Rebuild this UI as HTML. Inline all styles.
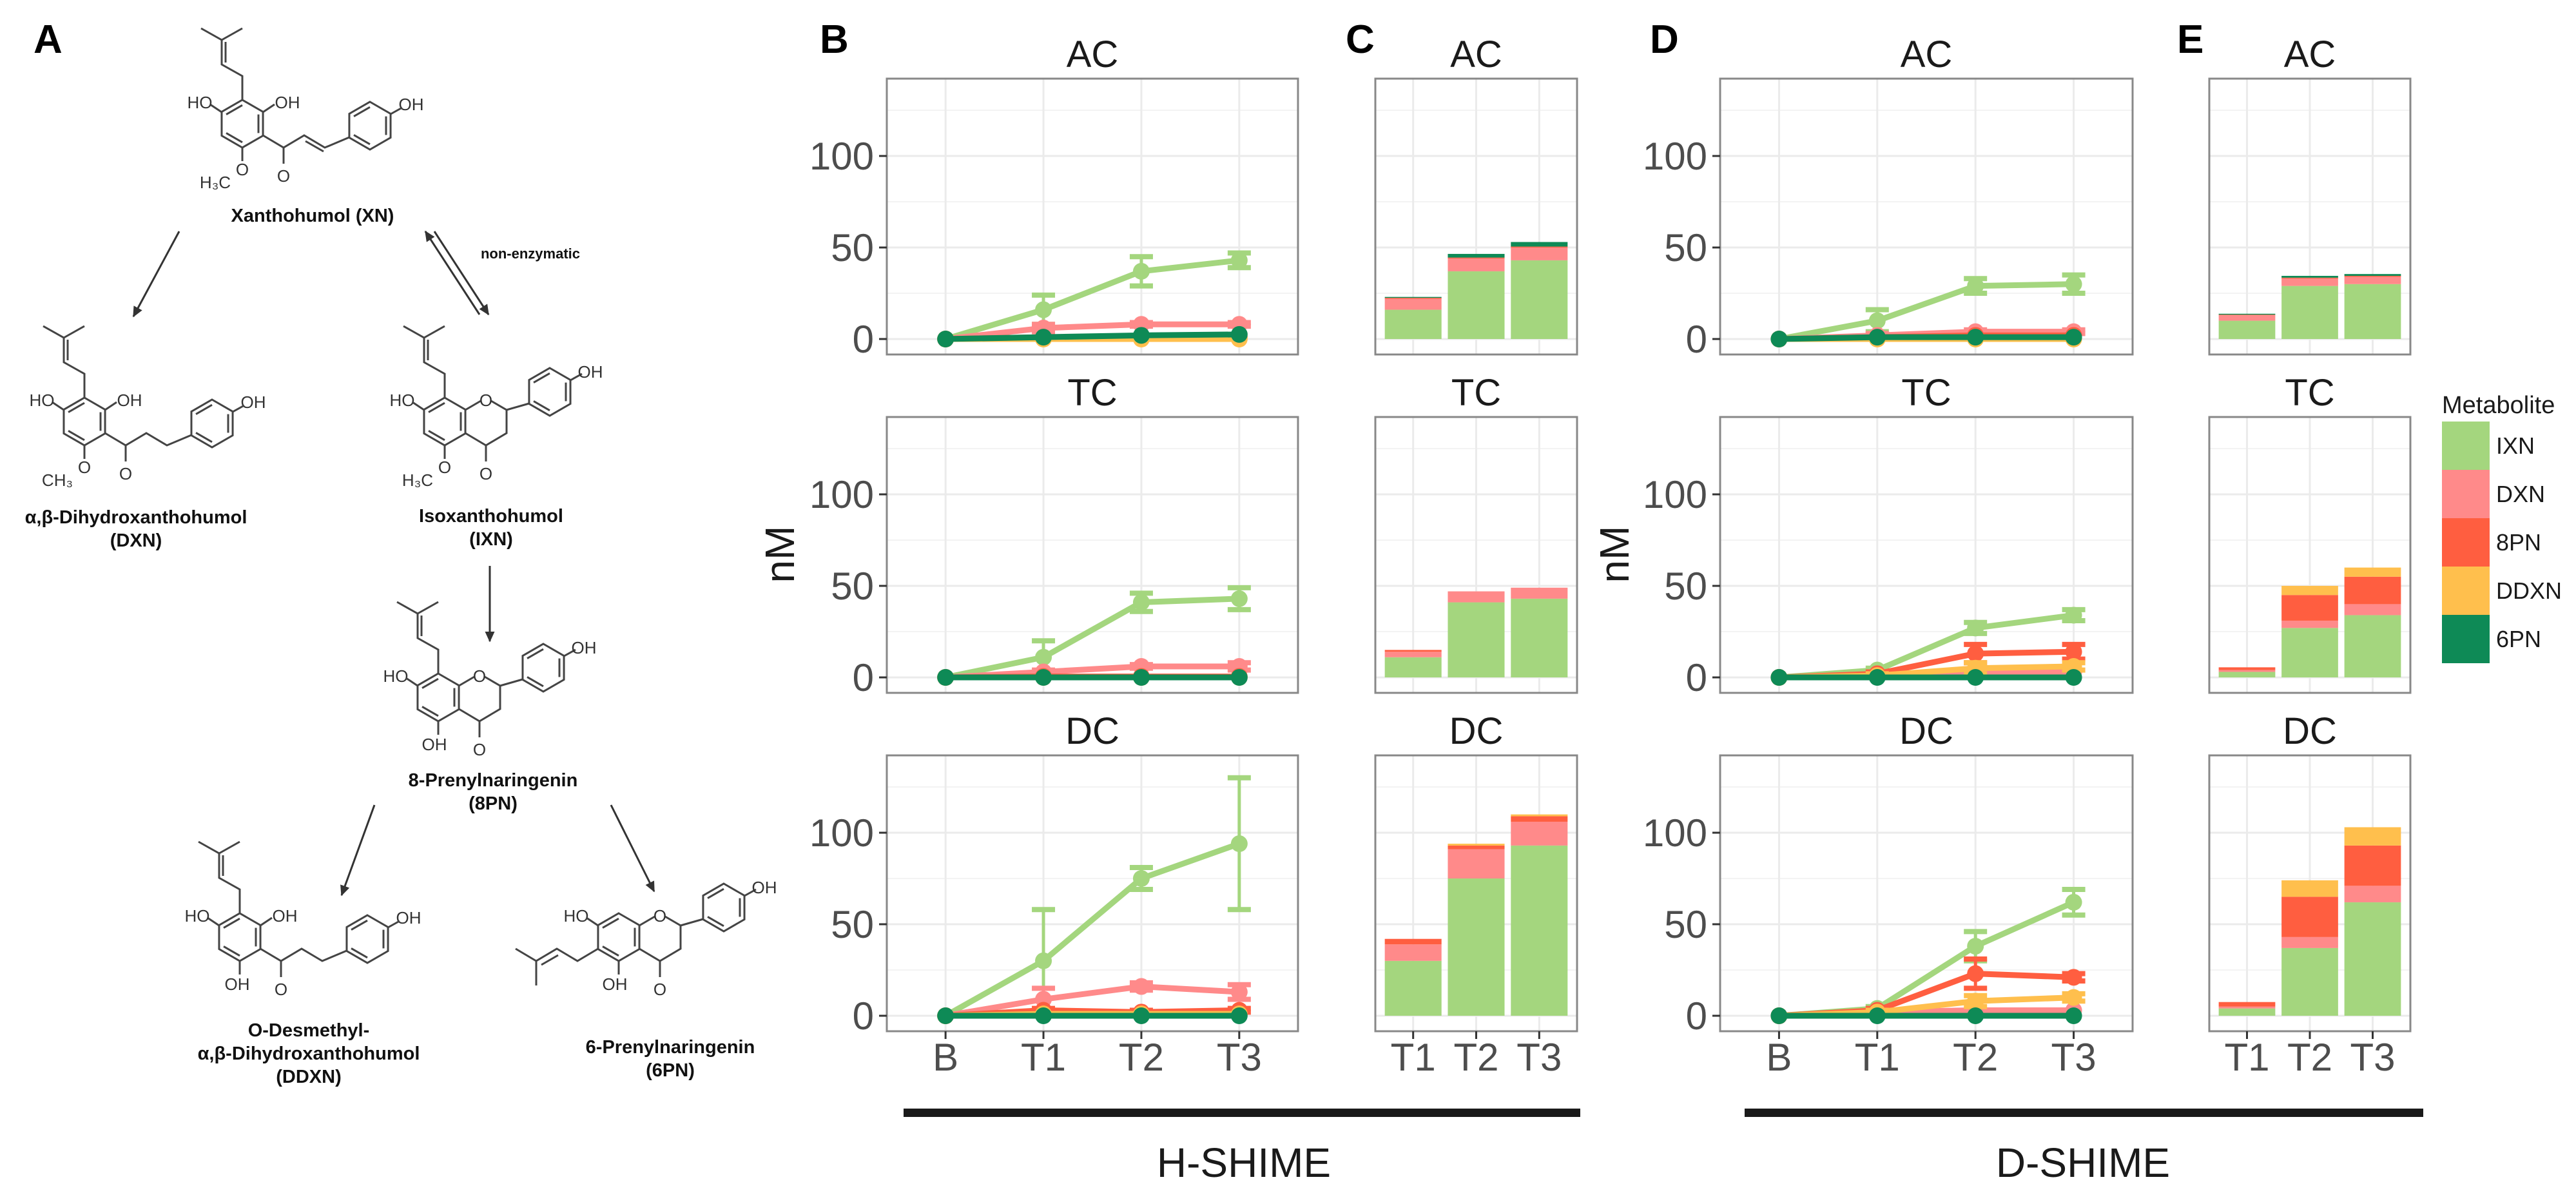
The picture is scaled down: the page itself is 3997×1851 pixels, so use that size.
<!DOCTYPE html>
<html><head><meta charset="utf-8"><style>
html,body{margin:0;padding:0;background:#fff;}
svg{display:block;font-family:"Liberation Sans",sans-serif;}
</style></head><body>
<svg id="fig" width="3997" height="1851" viewBox="0 0 3997 1851" xmlns="http://www.w3.org/2000/svg"></svg>
<script>
// ---------- data ----------
const cats = ['B','T1','T2','T3'];
const barCats = ['T1','T2','T3'];
const mets = ['IXN','DXN','8PN','DDXN','6PN'];
const colors = ['#a4d67e','#ff8a8a','#ff5e40','#ffbf4d','#0e8a56'];
const facets = ['AC','TC','DC'];
const yTicks = [0,50,100];

// H-SHIME line means (rows: IXN, DXN, 8PN, DDXN, 6PN)
const hAC = [[0,16,37,43],[0,6,8,8],[0,1,1,1],[0,0,0,0],[0,1,2,2.5]];
const hTC = [[0,11,41,43],[0,3,6,6],[0,0.5,0.5,0.5],[0,0,0,0],[0,0,0,0]];
const hDC = [[0,30,75,94],[0,9,16,13],[0,3,2,3],[0,1,1,1],[0,0,0,0]];
const hACerr = [[0,8,8,4],[0,2,1,1],[0,0,0,0],[0,0,0,0],[0,0,0,0]];
const hTCerr = [[0,9,5,6],[0,1,1,2],[0,0,0,0],[0,0,0,0],[0,0,0,0]];
const hDCerr = [[0,28,6,36],[0,6,2,4],[0,1,1,1],[0,0,0,0],[0,0,0,0]];
// D-SHIME line means
const dAC = [[0,10,29,30],[0,2,4,4],[0,1,2,2],[0,0,0,0],[0,1,1,1]];
const dTC = [[0,4,27,34],[0,1,2,3],[0,2,13,14],[0,1,5,6],[0,0,0,0]];
const dDC = [[0,4,38,62],[0,2,3,3],[0,3,23,21],[0,2,8,10],[0,0,0,0]];
const dACerr = [[0,6,4,5],[0,1,1,1],[0,0,0,0],[0,0,0,0],[0,0,0,0]];
const dTCerr = [[0,1,3,3],[0,0,0,0],[0,1,5,4],[0,1,3,2],[0,0,0,0]];
const dDCerr = [[0,1,8,7],[0,0,0,0],[0,1,8,2],[0,1,3,2],[0,0,0,0]];
// H-SHIME stacked bars (rows: metabolites, cols: T1,T2,T3)
const hbAC = [[16,37,43],[6,7,7],[0.5,0.5,0.5],[0,0,0],[0.5,2,2.5]];
const hbTC = [[11,41,43],[3,6,6],[1,0,0],[0,0,0],[0,0,0]];
const hbDC = [[30,75,93],[9,16,13],[3,2,3],[0,1,1],[0,0,0]];
// D-SHIME stacked bars
const dbAC = [[10,29,30],[3,4,4],[0.3,0.5,0.5],[0,0,0],[0.5,1,1]];
const dbTC = [[3,27,34],[1,4,6],[1.5,14,15],[0,5,5],[0,0,0]];
const dbDC = [[4,37,62],[1,6,9],[2.5,22,22],[0,9,10],[0,0,0]];

// ---------- helpers ----------
const NS = 'http://www.w3.org/2000/svg';
const svg = document.getElementById('fig');
function mk(tag, attrs, parent){
  const e = document.createElementNS(NS, tag);
  for (const k in attrs) e.setAttribute(k, attrs[k]);
  (parent||svg).appendChild(e);
  return e;
}
function txt(s, x, y, size, opts, parent){
  const o = Object.assign({x:x, y:y, 'font-size':size, fill:'#1a1a1a'}, opts||{});
  const t = mk('text', o, parent);
  t.textContent = s;
  return t;
}
const rowTops = [122, 647, 1172];
const PH = 428, Y0 = 404, K = 2.84;
function yS(top, v){ return top + Y0 - v*K; }

function frame(g, px, w, top, nCats){
  const unit = w/(nCats+0.2);
  [25,75,125].forEach(v=>{ mk('line',{x1:px,x2:px+w,y1:yS(top,v),y2:yS(top,v),stroke:'#f3f3f3','stroke-width':2},g); });
  yTicks.forEach(v=>{ mk('line',{x1:px,x2:px+w,y1:yS(top,v),y2:yS(top,v),stroke:'#ebebeb','stroke-width':3},g); });
  for(let i=0;i<nCats;i++){ const x=px+unit*(0.6+i); mk('line',{x1:x,x2:x,y1:top,y2:top+PH,stroke:'#ebebeb','stroke-width':3},g); }
  return unit;
}
function border(g, px, w, top){
  mk('rect',{x:px,y:top,width:w,height:PH,fill:'none',stroke:'#888','stroke-width':3},g);
}

function linePanel(name, px, w, row, vals, errs, title){
  const top = rowTops[row];
  const g = mk('g',{});
  
  
  const unit = frame(g, px, w, top, cats.length);
  const xS = i => px + unit*(0.6+i);
  mets.forEach((m, s)=>{
    const pts = vals[s].map((v,i)=>xS(i)+','+yS(top,v)).join(' ');
    const pl = mk('polyline',{points:pts,fill:'none',stroke:colors[s],'stroke-width':9,'stroke-linejoin':'round'},g);
    
    
    vals[s].forEach((v,i)=>{
      const e = errs[s][i];
      if(e>0){
        const x=xS(i), a=yS(top,v+e), b=yS(top,v-e);
        mk('line',{x1:x,x2:x,y1:a,y2:b,stroke:colors[s],'stroke-width':5},g);
        mk('line',{x1:x-18,x2:x+18,y1:a,y2:a,stroke:colors[s],'stroke-width':8},g);
        mk('line',{x1:x-18,x2:x+18,y1:b,y2:b,stroke:colors[s],'stroke-width':8},g);
      }
      const c = mk('circle',{cx:xS(i),cy:yS(top,v),r:13,fill:colors[s]},g);
      
      
    });
  });
  border(g, px, w, top);
  yTicks.forEach(v=>{
    mk('line',{x1:px-12,x2:px,y1:yS(top,v),y2:yS(top,v),stroke:'#333','stroke-width':3},g);
    const t = txt(String(v), px-20, yS(top,v)+21, 60, {'text-anchor':'end',fill:'#4d4d4d'}, g);
    
    
  });
  const ft = txt(title, px+w/2, top-18, 58, {'text-anchor':'middle'}, g);
  
  
  if(row===2){
    cats.forEach((c,i)=>{
      mk('line',{x1:xS(i),x2:xS(i),y1:top+PH,y2:top+PH+12,stroke:'#333','stroke-width':3},g);
      const t = txt(c, xS(i), top+PH+61, 60, {'text-anchor':'middle',fill:'#4d4d4d'}, g);
      
      
    });
  }
}

function barPanel(name, px, w, row, vals, title){
  const top = rowTops[row];
  const g = mk('g',{});
  
  
  const unit = frame(g, px, w, top, barCats.length);
  const xS = i => px + unit*(0.6+i);
  const bw = unit*0.9;
  barCats.forEach((c,i)=>{
    let acc = 0;
    mets.forEach((m,s)=>{
      const v = vals[s][i];
      if(v<=0) return;
      const y1 = yS(top, acc+v), y2 = yS(top, acc);
      const r = mk('rect',{x:xS(i)-bw/2,y:y1,width:bw,height:y2-y1,fill:colors[s]},g);
      
      
      acc += v;
    });
  });
  border(g, px, w, top);
  const ft = txt(title, px+w/2, top-18, 58, {'text-anchor':'middle'}, g);
  
  
  if(row===2){
    barCats.forEach((c,i)=>{
      mk('line',{x1:xS(i),x2:xS(i),y1:top+PH,y2:top+PH+12,stroke:'#333','stroke-width':3},g);
      const t = txt(c, xS(i), top+PH+61, 60, {'text-anchor':'middle',fill:'#4d4d4d'}, g);
      
      
    });
  }
}

// ---------- panels ----------
const hL=[hAC,hTC,hDC], hE=[hACerr,hTCerr,hDCerr], dL=[dAC,dTC,dDC], dE=[dACerr,dTCerr,dDCerr];
const hB=[hbAC,hbTC,hbDC], dB=[dbAC,dbTC,dbDC];
facets.forEach((f,r)=>{
  linePanel('h-shime-line-'+f, 1376, 638, r, hL[r], hE[r], f);
  barPanel('h-shime-bar-'+f, 2134, 313, r, hB[r], f);
  linePanel('d-shime-line-'+f, 2669, 640, r, dL[r], dE[r], f);
  barPanel('d-shime-bar-'+f, 3428, 312, r, dB[r], f);
});

// y axis titles
[1232, 2527].forEach(x=>{
  const t = txt('nM', x, 860, 64, {'text-anchor':'middle',transform:'rotate(-90 '+x+' 860)'});
  
  
});
// panel letters
[['A',52],['B',1272],['C',2088],['D',2560],['E',3378]].forEach(p=>{
  const t = txt(p[0], p[1], 82, 62, {'font-weight':'bold',fill:'#000'});
  
  
});
// group bars and labels
[[1402,2452,'H-SHIME',1930],[2707,3760,'D-SHIME',3232]].forEach(b=>{
  const r = mk('rect',{x:b[0],y:1720,width:b[1]-b[0],height:13,fill:'#1a1a1a'});
  
  
  const t = txt(b[2], b[3], 1826, 64, {'text-anchor':'middle'});
  
  
});
// legend
const lg = mk('g',{});


txt('Metabolite', 3789, 641, 38, {}, lg);
mets.forEach((m,s)=>{
  const r = mk('rect',{x:3789,y:654+s*75,width:74,height:75,fill:colors[s]},lg);
  
  
  const t = txt(m, 3873, 654+s*75+50, 36, {}, lg);
  
  
});

// ---------- chemical structures (panel A) ----------
const R = 37, SW = {stroke:'#444','stroke-width':3,fill:'none'};
function hexPts(cx,cy){ const p=[]; for(let k=0;k<6;k++){const a=(-90+60*k)*Math.PI/180; p.push([cx+R*Math.cos(a), cy+R*Math.sin(a)]);} return p; }
function ring(g,cx,cy){
  const p = hexPts(cx,cy);
  mk('polygon',Object.assign({points:p.map(q=>q.join(',')).join(' ')},SW),g);
  [[1,2],[3,4],[5,0]].forEach(e=>{
    const a=p[e[0]], b=p[e[1]];
    const s=0.78; mk('line',Object.assign({x1:cx+(a[0]-cx)*s,y1:cy+(a[1]-cy)*s,x2:cx+(b[0]-cx)*s,y2:cy+(b[1]-cy)*s},SW),g);
  });
}
function bonds(g,cx,cy,list){ list.forEach(l=>mk('polyline',Object.assign({points:l.map(q=>(cx+q[0])+','+(cy+q[1])).join(' ')},SW),g)); }
function lbl(g,s,x,y,size,bold){ const t=txt(s,x,y,size||26,{'text-anchor':'middle',fill:'#333','font-weight':bold?'bold':'normal'},g); return t; }
function prenyl(g,cx,cy){ bonds(g,cx,cy,[[[0,-37],[0,-74],[-32,-92],[-32,-130],[-64,-148]],[[-32,-130],[0,-148]],[[-26,-95],[-26,-127]]]); }
function chalcone(name,cx,cy,enone,ome){
  const g=mk('g',{});  
  ring(g,cx,cy); prenyl(g,cx,cy);
  bonds(g,cx,cy,[[[-32,-18],[-50,-30]],[[32,-18],[50,-30]],[[32,18],[64,37],[96,18],[128,37],[166,21]],[[64,37],[64,62]],[[0,37],[0,58]]]);
  if(enone) bonds(g,cx,cy,[[[98,27],[126,43]]]);
  ring(g,cx+198,cy+3);
  lbl(g,'HO',cx-66,cy-24); lbl(g,'OH',cx+70,cy-24); lbl(g,'OH',cx+262,cy-24+3);
  bonds(g,cx+198,cy+3,[[[32,-18],[50,-28]]]);
  lbl(g,'O',cx+64,cy+90);
  if(ome){ lbl(g,'O',cx,cy+80); lbl(g,ome,cx-42,cy+100); } else { lbl(g,'OH',cx-4,cy+82); }
}
function flavanone(name,cx,cy,opts){
  const g=mk('g',{});  
  ring(g,cx,cy);
  if(opts.p6){ bonds(g,cx,cy,[[[-32,18],[-64,37],[-96,18],[-128,37],[-128,75]],[[-128,37],[-160,18]],[[-94,28],[-120,43]]]); lbl(g,'HO',cx-66,cy-24); }
  else { prenyl(g,cx,cy); lbl(g,'HO',cx-66,cy-24); }
  bonds(g,cx,cy,[[[-32,-18],[-50,-30]],[[32,-18],[56,-32]],[[72,-32],[96,-18],[96,18],[64,37],[32,18]],[[64,37],[64,62]],[[0,37],[0,58]],[[96,-18],[131,-28]]]);
  ring(g,cx+163,cy-46);
  bonds(g,cx+163,cy-46,[[[32,-18],[50,-28]]]);
  lbl(g,'O',cx+64,cy-24); lbl(g,'OH',cx+226,cy-68); lbl(g,'O',cx+64,cy+90);
  if(opts.ome){ lbl(g,'O',cx,cy+80); lbl(g,'H₃C',cx-42,cy+100); } else { lbl(g,'OH',cx-6,cy+82); }
}
chalcone('xanthohumol-structure',376,192,true,'H₃C');
chalcone('dxn-structure',131,654,false,'CH₃');
chalcone('ddxn-structure',372,1454,false,'');
flavanone('ixn-structure',690,654,{ome:true});
flavanone('8pn-structure',680,1082,{});
flavanone('6pn-structure',960,1454,{p6:true});

// arrows
mk('defs',{}).innerHTML='<marker id="ah" markerWidth="6" markerHeight="6" refX="5" refY="3" orient="auto"><path d="M0,0.5 L5.5,3 L0,5.5 z" fill="#333"/></marker>';
[[278,359,207,491],[760,878,760,995],[581,1249,530,1389],[948,1249,1015,1383]].forEach(a=>{
  const l=mk('line',{x1:a[0],y1:a[1],x2:a[2],y2:a[3],stroke:'#333','stroke-width':3,'marker-end':'url(#ah)'});
   
});
mk('line',{x1:744,y1:488,x2:660,y2:359,stroke:'#333','stroke-width':3,'marker-end':'url(#ah)'});
mk('line',{x1:674,y1:359,x2:758,y2:488,stroke:'#333','stroke-width':3,'marker-end':'url(#ah)'});

// compound names
[['Xanthohumol (XN)',485,344],['α,β-Dihydroxanthohumol',211,812],['(DXN)',211,848],['Isoxanthohumol',762,810],['(IXN)',762,846],
 ['8-Prenylnaringenin',765,1220],['(8PN)',765,1256],['O-Desmethyl-',479,1608],['α,β-Dihydroxanthohumol',479,1644],['(DDXN)',479,1680],
 ['6-Prenylnaringenin',1040,1634],['(6PN)',1040,1670]].forEach(n=>{
  const t=txt(n[0],n[1],n[2],29,{'text-anchor':'middle','font-weight':'bold',fill:'#111'});
   
});
const ne=txt('non-enzymatic',823,401,22,{'text-anchor':'middle','font-weight':'bold',fill:'#111'});
 
</script>
</body></html>
